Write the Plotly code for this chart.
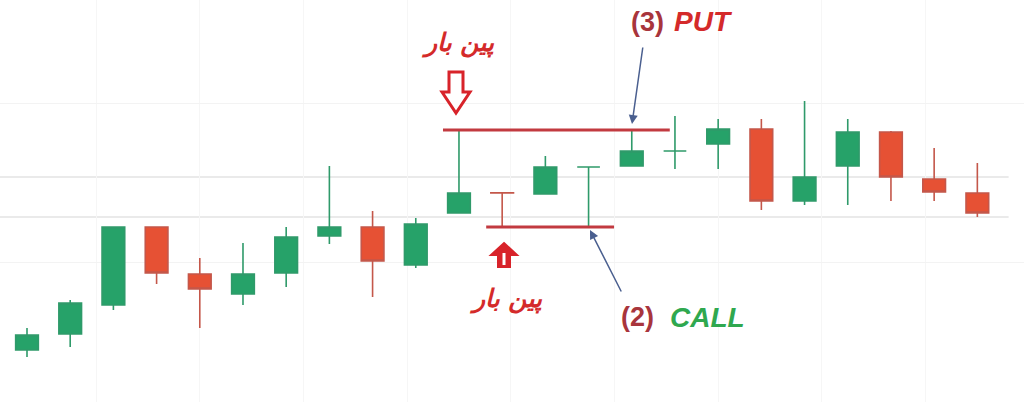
import plotly.graph_objects as go

W, H = 1024, 402

# ---- data (price units; hidden axis) ----
idx = list(range(23))
opens  = [52, 68, 97, 175, 128, 108, 129, 166, 175, 137, 189, 209.3, 208, 235, 236, 251, 258, 273, 201, 236, 270, 223, 209]
highs  = [74, 102, 175, 175, 144, 159, 175, 236, 191, 184, 272, 209.3, 246, 235, 272, 286, 283, 283, 301, 283, 271, 254, 239]
lows   = [45, 55, 92, 118, 74, 97, 115, 158, 105, 134, 189, 175, 208, 175, 236, 233, 233, 192, 197, 197, 201, 201, 185]
closes = [67, 99, 175, 129, 113, 128, 165, 175, 141, 178, 209, 209, 235, 235, 251, 251, 273, 201, 225, 270, 225, 210, 189]

# pin-bar levels: (level, x_start, x_end)
resistance = (272, 9.63, 14.88)
support = (175, 10.63, 13.59)
ref_levels = [185, 225]

GREEN = "#26a269"
RED = "#e65134"
LINE_RED = "#c23a40"

fig = go.Figure()
fig.add_trace(go.Candlestick(
    x=idx, open=opens, high=highs, low=lows, close=closes,
    increasing=dict(line=dict(color="#2f9a6a", width=1.6), fillcolor=GREEN),
    decreasing=dict(line=dict(color="#c4574a", width=1.6), fillcolor=RED),
    whiskerwidth=0, showlegend=False, hoverinfo="skip",
))

shapes = []
for lv in ref_levels:
    shapes.append(dict(type="line", xref="paper", yref="y", x0=0, x1=0.985, y0=lv, y1=lv,
                       line=dict(color="#d6d6d6", width=1.2), layer="below"))
for lv, a, b in (resistance, support):
    shapes.append(dict(type="line", xref="x", yref="y", x0=a, x1=b, y0=lv, y1=lv,
                       line=dict(color=LINE_RED, width=3)))


def px(x, y):
    return f"{x / W:.5f},{1 - y / H:.5f}"


# hollow down arrow
down = ("M " + px(449, 72) + " L " + px(463, 72) + " L " + px(463, 92) + " L " + px(470, 92) +
        " L " + px(456, 113) + " L " + px(442, 92) + " L " + px(449, 92) + " Z")
shapes.append(dict(type="path", xref="paper", yref="paper", path=down,
                   line=dict(color="#d8232a", width=3), fillcolor="white"))
# filled up arrow
up = ("M " + px(504, 243) + " L " + px(517, 255) + " L " + px(510, 255) + " L " + px(510, 267) +
      " L " + px(498, 267) + " L " + px(498, 255) + " L " + px(491, 255) + " Z")
shapes.append(dict(type="path", xref="paper", yref="paper", path=up,
                   line=dict(color="#d8232a", width=2), fillcolor="#d8232a"))
shapes.append(dict(type="line", xref="paper", yref="paper", x0=504 / W, x1=504 / W,
                   y0=1 - 253 / H, y1=1 - 265 / H, line=dict(color="white", width=3)))

ann = []


def text(x, y, t, size, color, font="Liberation Sans"):
    ann.append(dict(xref="paper", yref="paper", x=x / W, y=1 - y / H, text=t, showarrow=False,
                    font=dict(size=size, color=color, family=font), xanchor="center", yanchor="middle"))


text(458, 43, "<b><i>پین بار</i></b>", 25, "#d42a2a", "DejaVu Sans")
text(506, 299, "<b><i>پین بار</i></b>", 25, "#d42a2a", "DejaVu Sans")
text(647, 22, "<b>(3)</b>", 27, "#a8353c")
text(703, 22, "<b><i>PUT</i></b>", 28, "#d42a2a")
text(637, 317, "<b>(2)</b>", 27, "#a8353c")
text(707, 317, "<b><i>CALL</i></b>", 28, "#2fa84f")

# pointer arrows
ann.append(dict(xref="paper", yref="paper", x=632 / W, y=1 - 124 / H, ax=11, ay=-78,
                text="", showarrow=True, arrowhead=2, arrowsize=1.2, arrowwidth=1.5, arrowcolor="#4a5f8f"))
ann.append(dict(xref="paper", yref="paper", x=590 / W, y=1 - 230 / H, ax=32, ay=63,
                text="", showarrow=True, arrowhead=2, arrowsize=1.2, arrowwidth=1.5, arrowcolor="#4a5f8f"))

fig.update_layout(
    width=W, height=H, margin=dict(l=0, r=0, t=0, b=0),
    paper_bgcolor="white", plot_bgcolor="white",
    boxgap=0.25,
    xaxis=dict(range=[-0.625, 23.08], showticklabels=False, rangeslider=dict(visible=False),
               showgrid=True, gridcolor="#f6f6f6", tick0=4, dtick=2.4, zeroline=False, showline=False),
    yaxis=dict(range=[0, 402], showticklabels=False, showgrid=True, gridcolor="#f3f3f3",
               tickvals=[140, 299], zeroline=False, showline=False),
    shapes=shapes, annotations=ann,
)

fig.write_html("out.html", config={"displayModeBar": False},
               post_script="document.body.style.margin='0';document.body.style.overflow='hidden';")
